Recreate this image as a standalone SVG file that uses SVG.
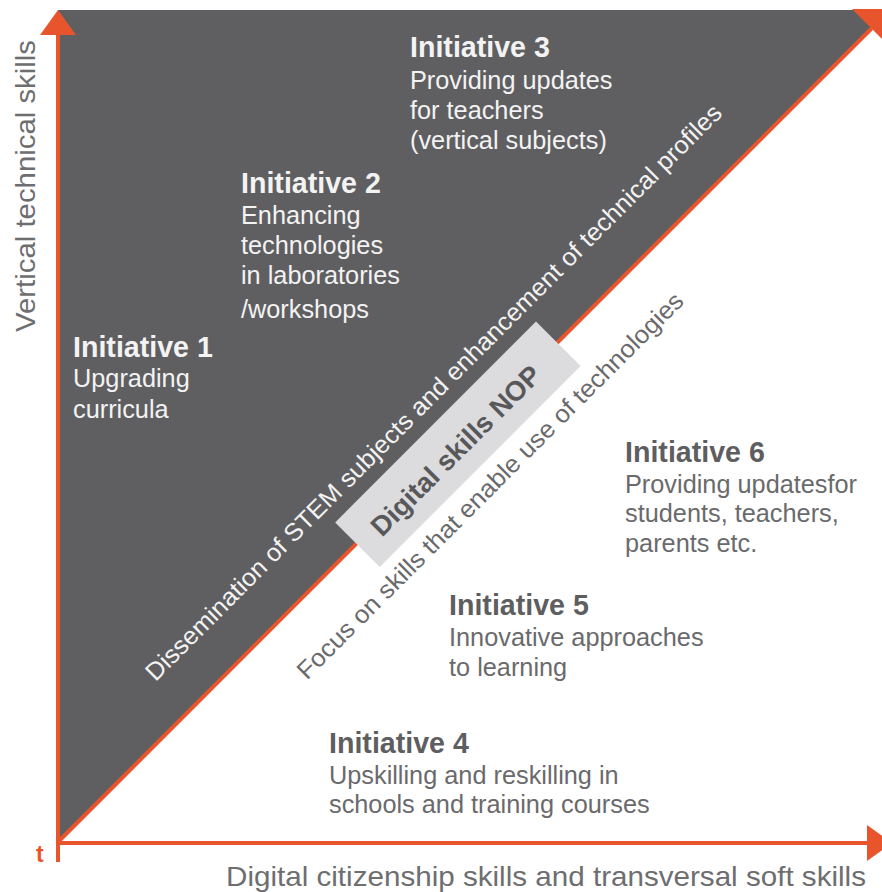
<svg xmlns="http://www.w3.org/2000/svg" width="882" height="892" viewBox="0 0 882 892">
  <style>
    text { font-family: "Liberation Sans", Arial, sans-serif; }
    .head { font-size: 28.6px; font-weight: bold; }
    .body { font-size: 25.3px; }
    .dark .head, .dark .body { fill: #f3f3f3; }
    .light .head { fill: #5e5e60; }
    .light .body { fill: #6a6a6c; }
    .axis { font-size: 28px; fill: #6e6e70; }
    .ax { stroke: #e8552c; stroke-width: 4; fill: none; }
  </style>
  <defs>
    <marker id="head" markerUnits="userSpaceOnUse" markerWidth="25" markerHeight="36" viewBox="0 0 25 36" refX="0" refY="18" orient="auto">
      <path d="M0,0 L25,18 L0,36 Z" fill="#e8552c"/>
    </marker>
    <clipPath id="frame">
      <rect x="0" y="9" width="882" height="883"/>
    </clipPath>
  </defs>

  <!-- upper-left half: technical profile area -->
  <polygon id="technical-area" points="58,10 890,10 58,842" fill="#5f5f61"/>

  <g id="connectors">
    <line class="ax" x1="58" y1="862" x2="58" y2="35" marker-end="url(#head)"/>
    <line class="ax" x1="56" y1="843" x2="867" y2="843" marker-end="url(#head)"/>
    <line class="ax" x1="58" y1="842" x2="871.5" y2="28.5"/>
    <polygon points="851.7,8.7 891.3,48.3 896,4" fill="#e8552c" clip-path="url(#frame)"/>
  </g>

  <!-- axis labels -->
  <g id="axis-vertical">
    <text class="axis" transform="translate(35,332) rotate(-90)" textLength="292" lengthAdjust="spacingAndGlyphs">Vertical technical skills</text>
  </g>
  <g id="axis-horizontal">
    <text class="axis" x="226" y="886" textLength="640" lengthAdjust="spacingAndGlyphs">Digital citizenship skills and transversal soft skills</text>
  </g>
  <g id="origin-label">
    <text x="36" y="862" font-size="23" font-weight="bold" fill="#e8552c">t</text>
  </g>

  <!-- diagonal band, drawn in a frame aligned with the diagonal -->
  <g id="diagonal" transform="translate(58,842) rotate(-45)">
    <g id="digital-skills-nop">
      <rect x="422" y="-30" width="284" height="63" fill="#dcdcde"/>
      <text x="558" y="14" text-anchor="middle" font-size="27.5" font-weight="bold" fill="#58585a">Digital skills NOP</text>
    </g>
    <g id="stem-label">
      <text x="182" y="-44" font-size="25" fill="#f3f3f3" textLength="803" lengthAdjust="spacingAndGlyphs">Dissemination of STEM subjects and enhancement of technical profiles</text>
    </g>
    <g id="focus-label">
      <text x="290" y="62" font-size="25" fill="#6a6a6c" textLength="535" lengthAdjust="spacingAndGlyphs">Focus on skills that enable use of technologies</text>
    </g>
  </g>

  <!-- initiatives on the technical side -->
  <g id="initiative-1" class="dark">
    <text class="head" x="73" y="357">Initiative 1</text>
    <text class="body" x="73" y="387">Upgrading</text>
    <text class="body" x="73" y="418">curricula</text>
  </g>
  <g id="initiative-2" class="dark">
    <text class="head" x="241" y="193">Initiative 2</text>
    <text class="body" x="241" y="224">Enhancing</text>
    <text class="body" x="241" y="254">technologies</text>
    <text class="body" x="241" y="284">in laboratories</text>
    <text class="body" x="241" y="318">/workshops</text>
  </g>
  <g id="initiative-3" class="dark">
    <text class="head" x="410" y="57">Initiative 3</text>
    <text class="body" x="410" y="89">Providing updates</text>
    <text class="body" x="410" y="119">for teachers</text>
    <text class="body" x="410" y="149">(vertical subjects)</text>
  </g>

  <!-- initiatives on the transversal side -->
  <g id="initiative-4" class="light">
    <text class="head" x="329" y="753">Initiative 4</text>
    <text class="body" x="329" y="784">Upskilling and reskilling in</text>
    <text class="body" x="329" y="813">schools and training courses</text>
  </g>
  <g id="initiative-5" class="light">
    <text class="head" x="449" y="615">Initiative 5</text>
    <text class="body" x="449" y="646">Innovative approaches</text>
    <text class="body" x="449" y="676">to learning</text>
  </g>
  <g id="initiative-6" class="light">
    <text class="head" x="625" y="462">Initiative 6</text>
    <text class="body" x="625" y="493">Providing updatesfor</text>
    <text class="body" x="625" y="522">students, teachers,</text>
    <text class="body" x="625" y="552">parents etc.</text>
  </g>
</svg>
